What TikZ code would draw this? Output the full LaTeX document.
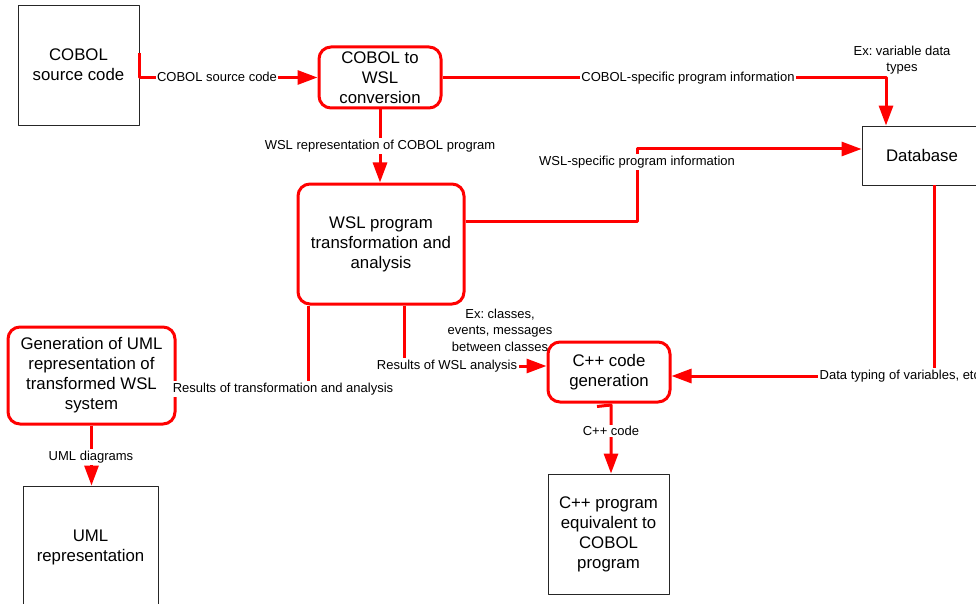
\documentclass[tikz,border=0pt]{standalone}
\usepackage{fontspec}
\setmainfont{Liberation Sans}
\usetikzlibrary{arrows.meta}
\frenchspacing
\begin{document}
\begin{tikzpicture}[x=1pt,y=-1pt,>={Triangle[length=20pt,width=14pt]},line join=round,
	font=\fontsize{16.8}{20}\selectfont,
	store/.style={draw=black!85,line width=0.9pt,align=center,inner sep=0pt},
	proc/.style={draw=red,line width=3pt,rounded corners=12pt,align=center,inner sep=0pt},
	flow/.style={draw=red,line width=3pt,->},
	lbl/.style={fill=white,inner sep=1.5pt,align=center,font=\fontsize{13}{16.5}\selectfont}]
	\useasboundingbox (0,0) rectangle (976,604);
	\node[store,minimum width=121pt,minimum height=120pt] (src) at (78.5,65) {COBOL\\source code};
	\node[proc,minimum width=122pt,minimum height=61pt] (conv) at (380,77.5) {COBOL to\\WSL\\conversion};
	\node[proc,minimum width=166pt,minimum height=120pt] (wsl) at (381,244) {WSL program\\transformation and\\analysis};
	\node[store,minimum width=120pt,minimum height=59pt] (db) at (922,155.5) {Database};
	\node[proc,minimum width=167pt,minimum height=97pt] (gen) at (91.5,375.5) {Generation of UML\\representation of\\transformed WSL\\system};
	\node[proc,minimum width=122pt,minimum height=60pt] (cpp) at (609,372) {C++ code\\generation};
	\node[store,minimum width=121pt,minimum height=120pt] (prog) at (608.5,534) {C++ program\\equivalent to\\COBOL\\program};
	\node[store,minimum width=135pt,minimum height=122pt] (uml) at (90.5,547) {UML\\representation};
	\path (637,149) coordinate (wslbend)
		(934,376) coordinate (dbbend)
		(308,389) coordinate (anabend)
		(404,366) coordinate (resbend)
		(611,405) coordinate (cppout);
	\draw[flow] ([yshift=12pt]src.east) |- (conv.west);
	\draw[flow] (conv.east) -| ([xshift=-36pt]db.north);
	\draw[flow] (conv.south) -- (conv.south |- wsl.north);
	\draw[flow] ([yshift=23pt]wsl.east) -| (wslbend) -- (db.west |- wslbend);
	\draw[flow] (db.south -| dbbend) -- (dbbend) -- (cpp.east |- dbbend);
	\draw[flow] (wsl.south -| anabend) -- (anabend) -- (gen.east |- anabend);
	\draw[flow] (wsl.south -| resbend) -- (resbend) -- (cpp.west |- resbend);
	\draw[flow] ([xshift=-12pt,yshift=-3pt]cpp.south) -- (cppout) -- (prog.north -| cppout);
	\draw[flow] (gen.south) -- (gen.south |- uml.north);
	\node[lbl] (lsrc) at (217,77) {COBOL source code};
	\node[lbl] (lcob) at (688,78) {COBOL-specific program information};
	\node[lbl,fill=none] (lvar) at (902,60) {Ex: variable data\\types};
	\node[lbl] (lrep) at (380,146) {WSL representation of COBOL program};
	\node[lbl] (lwsl) at (637,162) {WSL-specific program information};
	\node[lbl,anchor=west] (ltype) at (818,376) {Data typing of variables, etc.};
	\node[lbl] (ltra) at (283,389) {Results of transformation and analysis};
	\node[lbl] (lres) at (447,366) {Results of WSL analysis};
	\node[lbl,fill=none] (lcls) at (500,330) {Ex: classes,\\events, messages\\between classes};
	\node[lbl] (lcpp) at (611,431) {C++ code};
	\node[lbl] (luml) at (91,457) {UML diagrams};
\end{tikzpicture}
\end{document}
